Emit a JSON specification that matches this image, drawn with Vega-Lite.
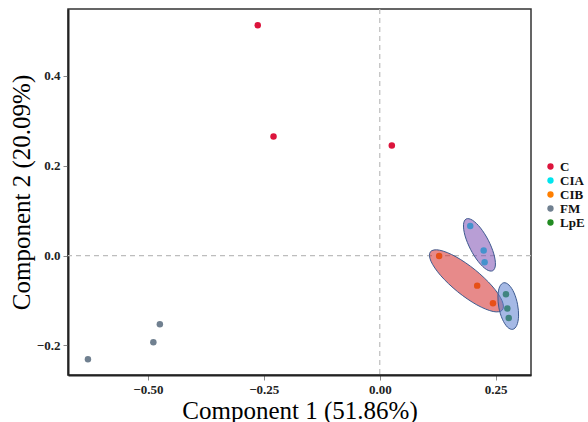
{
  "$schema": "https://vega.github.io/schema/vega-lite/v6.json",
  "width": 463,
  "height": 366,
  "autosize": {"type": "none"},
  "padding": {"left": 68, "top": 9, "right": 57, "bottom": 47},
  "background": "white",
  "config": {
    "view": {"stroke": "#333333", "strokeWidth": 1.5},
    "font": "Liberation Serif"
  },
  "datasets": {
    "pts": [
      {"group": "C", "pc1": -0.263, "pc2": 0.513},
      {"group": "C", "pc1": -0.229, "pc2": 0.265},
      {"group": "C", "pc1": 0.026, "pc2": 0.245},
      {"group": "CIA", "pc1": 0.195, "pc2": 0.066},
      {"group": "CIA", "pc1": 0.224, "pc2": 0.011},
      {"group": "CIA", "pc1": 0.226, "pc2": -0.015},
      {"group": "CIB", "pc1": 0.128, "pc2": -0.001},
      {"group": "CIB", "pc1": 0.210, "pc2": -0.067},
      {"group": "CIB", "pc1": 0.244, "pc2": -0.106},
      {"group": "FM", "pc1": -0.629, "pc2": -0.231},
      {"group": "FM", "pc1": -0.488, "pc2": -0.193},
      {"group": "FM", "pc1": -0.474, "pc2": -0.153},
      {"group": "LpE", "pc1": 0.272, "pc2": -0.086},
      {"group": "LpE", "pc1": 0.275, "pc2": -0.118},
      {"group": "LpE", "pc1": 0.278, "pc2": -0.139}
    ],
    "ell": [
      {"group": "CIA", "i": 0, "pc1": 0.2435, "pc2": -0.0338},
      {"group": "CIA", "i": 1, "pc1": 0.2301, "pc2": -0.0312},
      {"group": "CIA", "i": 2, "pc1": 0.2126, "pc2": -0.0138},
      {"group": "CIA", "i": 3, "pc1": 0.1957, "pc2": 0.0137},
      {"group": "CIA", "i": 4, "pc1": 0.1839, "pc2": 0.0438},
      {"group": "CIA", "i": 5, "pc1": 0.1805, "pc2": 0.0686},
      {"group": "CIA", "i": 6, "pc1": 0.1862, "pc2": 0.0814},
      {"group": "CIA", "i": 7, "pc1": 0.1996, "pc2": 0.0788},
      {"group": "CIA", "i": 8, "pc1": 0.2171, "pc2": 0.0615},
      {"group": "CIA", "i": 9, "pc1": 0.2340, "pc2": 0.0340},
      {"group": "CIA", "i": 10, "pc1": 0.2458, "pc2": 0.0038},
      {"group": "CIA", "i": 11, "pc1": 0.2493, "pc2": -0.0210},
      {"group": "CIB", "i": 0, "pc1": 0.2644, "pc2": -0.1212},
      {"group": "CIB", "i": 1, "pc1": 0.2445, "pc2": -0.1246},
      {"group": "CIB", "i": 2, "pc1": 0.2092, "pc2": -0.1098},
      {"group": "CIB", "i": 3, "pc1": 0.1679, "pc2": -0.0806},
      {"group": "CIB", "i": 4, "pc1": 0.1316, "pc2": -0.0449},
      {"group": "CIB", "i": 5, "pc1": 0.1102, "pc2": -0.0123},
      {"group": "CIB", "i": 6, "pc1": 0.1093, "pc2": 0.0085},
      {"group": "CIB", "i": 7, "pc1": 0.1292, "pc2": 0.0119},
      {"group": "CIB", "i": 8, "pc1": 0.1645, "pc2": -0.0029},
      {"group": "CIB", "i": 9, "pc1": 0.2058, "pc2": -0.0321},
      {"group": "CIB", "i": 10, "pc1": 0.2421, "pc2": -0.0678},
      {"group": "CIB", "i": 11, "pc1": 0.2635, "pc2": -0.1004},
      {"group": "LpE", "i": 0, "pc1": 0.2867, "pc2": -0.1643},
      {"group": "LpE", "i": 1, "pc1": 0.2753, "pc2": -0.1594},
      {"group": "LpE", "i": 2, "pc1": 0.2644, "pc2": -0.1419},
      {"group": "LpE", "i": 3, "pc1": 0.2568, "pc2": -0.1165},
      {"group": "LpE", "i": 4, "pc1": 0.2547, "pc2": -0.0900},
      {"group": "LpE", "i": 5, "pc1": 0.2584, "pc2": -0.0696},
      {"group": "LpE", "i": 6, "pc1": 0.2672, "pc2": -0.0606},
      {"group": "LpE", "i": 7, "pc1": 0.2785, "pc2": -0.0656},
      {"group": "LpE", "i": 8, "pc1": 0.2895, "pc2": -0.0831},
      {"group": "LpE", "i": 9, "pc1": 0.2970, "pc2": -0.1084},
      {"group": "LpE", "i": 10, "pc1": 0.2992, "pc2": -0.1349},
      {"group": "LpE", "i": 11, "pc1": 0.2954, "pc2": -0.1553}
    ],
    "zero": [{"v": 0}]
  },
  "layer": [
    {
      "data": {"name": "zero"},
      "mark": {"type": "rule", "color": "#bdbdbd", "strokeDash": [5, 4], "strokeWidth": 1.2},
      "encoding": {"x": {"field": "v", "type": "quantitative", "scale": {"domain": [-0.672, 0.326], "nice": false, "zero": false}}}
    },
    {
      "data": {"name": "zero"},
      "mark": {"type": "rule", "color": "#bdbdbd", "strokeDash": [5, 4], "strokeWidth": 1.2},
      "encoding": {"y": {"field": "v", "type": "quantitative", "scale": {"domain": [-0.266, 0.549], "nice": false, "zero": false}}}
    },
    {
      "data": {"name": "pts"},
      "mark": {"type": "point", "filled": true, "shape": "circle", "size": 42, "opacity": 1},
      "encoding": {
        "x": {
          "field": "pc1", "type": "quantitative",
          "scale": {"domain": [-0.672, 0.326], "nice": false, "zero": false},
          "axis": {
            "title": "Component 1 (51.86%)", "values": [-0.5, -0.25, 0, 0.25], "format": ".2f",
            "grid": false, "domainColor": "#222222", "domainWidth": 2,
            "tickColor": "#888888", "tickSize": 5, "labelFont": "Liberation Serif", "labelFontWeight": "bold",
            "labelFontSize": 13, "labelColor": "#222222", "labelPadding": 3,
            "titleFont": "Liberation Serif", "titleFontSize": 25, "titleFontWeight": "normal", "titleColor": "#000000", "titlePadding": 2
          }
        },
        "y": {
          "field": "pc2", "type": "quantitative",
          "scale": {"domain": [-0.266, 0.549], "nice": false, "zero": false},
          "axis": {
            "title": "Component 2 (20.09%)", "values": [-0.2, 0, 0.2, 0.4], "format": ".1f",
            "grid": false, "domainColor": "#222222", "domainWidth": 2,
            "tickColor": "#888888", "tickSize": 5, "labelFont": "Liberation Serif", "labelFontWeight": "bold",
            "labelFontSize": 13, "labelColor": "#222222", "labelPadding": 3,
            "titleFont": "Liberation Serif", "titleFontSize": 25, "titleFontWeight": "normal", "titleColor": "#000000", "titlePadding": 2
          }
        },
        "color": {
          "field": "group", "type": "nominal",
          "scale": {"domain": ["C", "CIA", "CIB", "FM", "LpE"], "range": ["#dc143c", "#00e5ee", "#ff7f00", "#708090", "#228b22"]},
          "legend": {
            "title": null, "orient": "none", "legendX": 476, "legendY": 151,
            "symbolType": "circle", "symbolSize": 40, "labelFont": "Liberation Serif", "labelFontWeight": "bold",
            "labelFontSize": 13, "labelColor": "#111111", "rowPadding": -1, "labelOffset": 3
          }
        }
      }
    },
    {
      "data": {"name": "ell"},
      "mark": {"type": "line", "interpolate": "cardinal-closed", "stroke": "#3d5a8f", "strokeWidth": 1, "fillOpacity": 0.55},
      "encoding": {
        "x": {"field": "pc1", "type": "quantitative"},
        "y": {"field": "pc2", "type": "quantitative"},
        "detail": {"field": "group"},
        "order": {"field": "i", "type": "quantitative"},
        "fill": {
          "field": "group", "type": "nominal",
          "scale": {"domain": ["CIA", "CIB", "LpE"], "range": ["#7d4fb3", "#d42a2a", "#5b7fcf"]},
          "legend": null
        }
      }
    }
  ]
}
